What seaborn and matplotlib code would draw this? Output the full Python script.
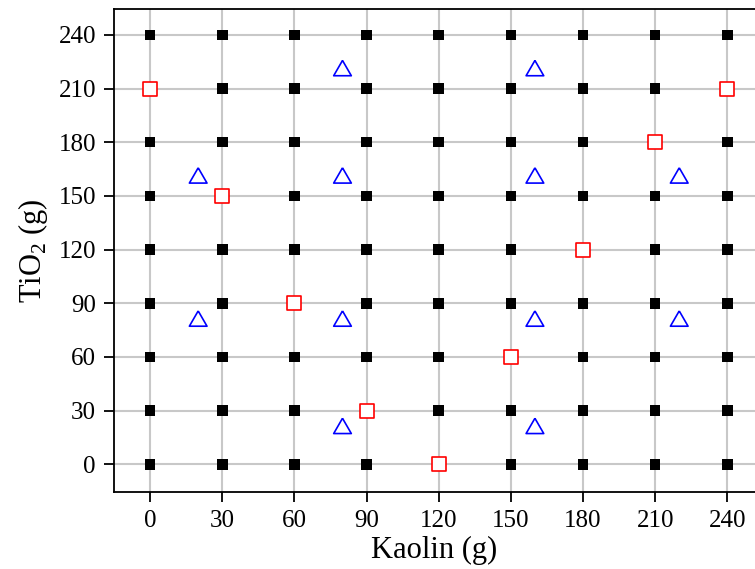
import numpy as np
import pandas as pd
import seaborn as sns
import matplotlib.pyplot as plt

# design levels (g)
levels = [0, 30, 60, 90, 120, 150, 180, 210, 240]

# red hollow squares (kaolin, TiO2)
red_kaolin = [0, 30, 60, 90, 120, 150, 180, 210, 240]
red_tio2 = [210, 150, 90, 30, 0, 60, 120, 180, 210]

# blue hollow triangles
blue_kaolin = [20, 20, 80, 80, 80, 80, 160, 160, 160, 160, 220, 220]
blue_tio2 = [160, 80, 220, 160, 80, 20, 220, 160, 80, 20, 160, 80]

sns.set_style("white")
plt.rcParams['font.family'] = ['Liberation Serif', 'DejaVu Serif']
plt.rcParams['mathtext.fontset'] = 'custom'
plt.rcParams['mathtext.rm'] = 'Liberation Serif'
plt.rcParams['text.color'] = 'black'
plt.rcParams['axes.labelcolor'] = 'black'
plt.rcParams['xtick.color'] = 'black'
plt.rcParams['ytick.color'] = 'black'

red_pts = set(zip(red_kaolin, red_tio2))
grid = [(k, t) for k in levels for t in levels if (k, t) not in red_pts]
df_black = pd.DataFrame(grid, columns=["kaolin", "tio2"])
df_red = pd.DataFrame({"kaolin": red_kaolin, "tio2": red_tio2})
df_blue = pd.DataFrame({"kaolin": blue_kaolin, "tio2": blue_tio2})

fig = plt.figure(figsize=(7.55, 5.69), dpi=100)
ax = fig.add_axes([0.151, 0.136, 0.849, 0.848])

for v in levels:
    ax.axvline(v, color="#c8c8c8", lw=1.5, zorder=0)
    ax.axhline(v, color="#c8c8c8", lw=1.5, zorder=0)

sns.scatterplot(data=df_black, x="kaolin", y="tio2", marker="s", s=58,
                color="black", edgecolor="none", ax=ax, zorder=3)
sns.scatterplot(data=df_red, x="kaolin", y="tio2", marker="s", s=88,
                facecolor="white", edgecolor="red", linewidth=1.2, ax=ax, zorder=3)
tri = [(0, 1.155), (-1, -0.577), (1, -0.577), (0, 1.155)]
sns.scatterplot(data=df_blue, x="kaolin", y="tio2", marker=tri, s=215,
                facecolor="none", edgecolor="blue", linewidth=1.2, ax=ax, zorder=3)

ax.set_xlim(-15, 251.5)
ax.set_ylim(-15.3, 254.4)
ax.set_xticks(levels)
ax.set_yticks(levels)
ax.tick_params(direction="out", length=7, width=1.3, labelsize=18, pad=6,
               bottom=True, left=True, top=False, right=False)
for side in ["left", "bottom", "top"]:
    ax.spines[side].set_linewidth(1.3)
    ax.spines[side].set_color("black")
ax.spines["right"].set_visible(False)

ax.set_xlabel("Kaolin (g)", fontsize=22, labelpad=3)
ax.set_ylabel("TiO$_\\mathrm{2}$ (g)", fontsize=22, labelpad=6)

fig.savefig("out.png", dpi=100)
